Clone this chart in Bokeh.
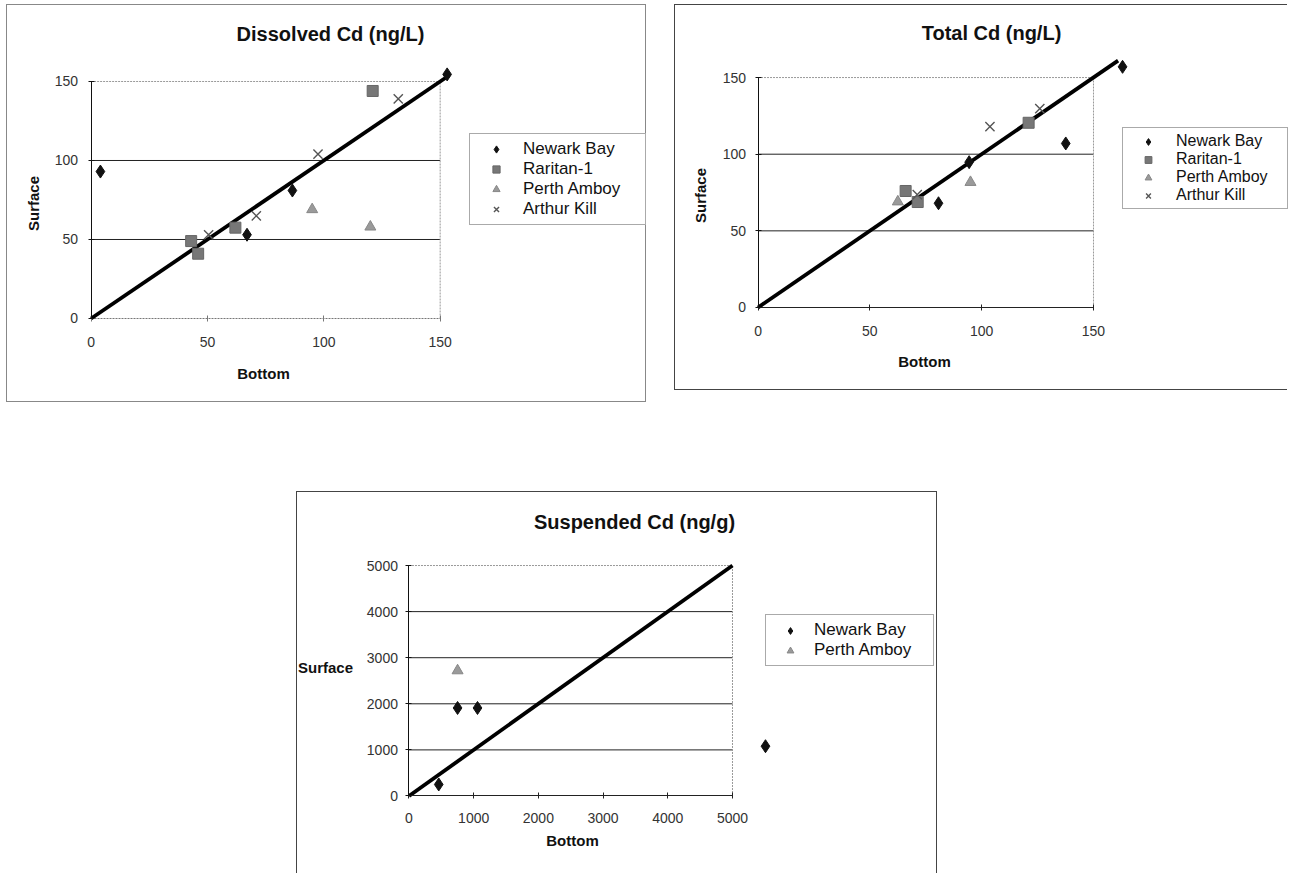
from bokeh.plotting import figure
from bokeh.models import Range1d, FixedTicker, Label, Legend, LegendItem, Spacer
from bokeh.layouts import column, row
from bokeh.embed import file_html
from bokeh.resources import INLINE
from math import pi

# ---------------- data ----------------
# Dissolved Cd (ng/L)
dis_nb_x = [4, 67, 86.5, 153]
dis_nb_y = [93, 53, 81, 154.5]
dis_rar_x = [43, 46, 62, 121]
dis_rar_y = [49, 41, 57.5, 144]
dis_pa_x = [95, 120]
dis_pa_y = [69, 58]
dis_ak_x = [50.5, 71, 97.5, 132]
dis_ak_y = [53, 65, 104, 139]
dis_line = [0, 153]

# Total Cd (ng/L)
tot_nb_x = [80.7, 94.4, 137.6, 163]
tot_nb_y = [68, 94.8, 107, 157]
tot_rar_x = [66, 71.4, 121]
tot_rar_y = [76, 68.8, 120.5]
tot_pa_x = [62.5, 95]
tot_pa_y = [69, 81.7]
tot_ak_x = [71.2, 103.7, 126]
tot_ak_y = [73.6, 118, 129.7]
tot_line = [0, 161]

# Suspended Cd (ng/g)
sus_nb_x = [460, 751, 1059, 5510]
sus_nb_y = [250, 1910, 1910, 1080]
sus_pa_x = [751]
sus_pa_y = [2720]
sus_line = [0, 5000]

ticks_ngl = [0, 50, 100, 150]
ticks_ngg = [0, 1000, 2000, 3000, 4000, 5000]

FONT = "Liberation Sans"

MARKERS = {
    "Newark Bay": dict(marker="diamond", size=13, fill_color="#111111", line_color="#111111"),
    "Raritan-1": dict(marker="square", size=11, fill_color="#777777", line_color="#666666"),
    "Perth Amboy": dict(marker="triangle", size=11, fill_color="#9a9a9a", line_color="#888888"),
    "Arthur Kill": dict(marker="x", size=13, line_color="#555555", line_width=1.4),
}


def make_panel(w, h, xr, yr, ticks, title, t_xy, s_xy, s_rot, b_xy,
               series, line, leg_xy, leg, styles, xaxis_color, xaxis_dash, ylab_sd, xlab_sd):
    p = figure(width=w, height=h, output_backend="svg", toolbar_location=None,
               title=None, x_range=Range1d(*xr), y_range=Range1d(*yr),
               min_border=0, min_border_left=0, min_border_right=0,
               min_border_top=0, min_border_bottom=0)
    p.styles = styles
    p.outline_line_color = None
    p.background_fill_color = "white"
    p.border_fill_color = "white"
    p.xgrid.visible = False
    p.ygrid.visible = False
    tmax = ticks[-1]
    for ax, sd, col, dash in ((p.xaxis[0], xlab_sd, xaxis_color, xaxis_dash),
                              (p.yaxis[0], ylab_sd, "#111111", "solid")):
        ax.fixed_location = 0
        ax.ticker = FixedTicker(ticks=ticks)
        ax.bounds = (0, tmax)
        ax.minor_tick_line_color = None
        ax.major_tick_in = 3
        ax.major_tick_out = 3
        ax.axis_line_color = col
        ax.axis_line_dash = dash
        ax.major_tick_line_color = col
        ax.major_label_text_font = FONT
        ax.major_label_text_font_size = "14px"
        ax.major_label_text_color = "#333333"
        ax.major_label_standoff = sd
    # gridlines inside the plot area
    inner = ticks[1:-1]
    p.segment(x0=[0] * len(inner), x1=[tmax] * len(inner), y0=inner, y1=inner,
              line_color="#222222", line_width=1)
    # plot-area border (top and right)
    p.segment(x0=[0, tmax], x1=[tmax, tmax], y0=[tmax, 0], y1=[tmax, tmax],
              line_color="#999999", line_width=1, line_dash="2 1")
    # 1:1 line
    p.line(line, line, line_color="black", line_width=3.8)

    items = []
    for name, xs, ys in series:
        r = p.scatter(xs, ys, **MARKERS[name])
        items.append(LegendItem(label=name, renderers=[r]))

    legend = Legend(items=items, location=leg_xy, padding=leg["padding"], spacing=0,
                    glyph_width=leg["gw"], glyph_height=leg["lh"], label_height=leg["lh"],
                    label_width=leg["lw"], label_standoff=leg["sd"],
                    label_text_font=FONT, label_text_font_size=leg["fs"],
                    label_text_color="#111111",
                    border_line_color="#555555", border_line_width=1,
                    background_fill_color="white", background_fill_alpha=1.0,
                    margin=0)
    p.add_layout(legend)

    p.add_layout(Label(x=t_xy[0], y=t_xy[1], x_units="screen", y_units="screen", text=title,
                       text_align="center", text_baseline="middle", text_font=FONT,
                       text_font_size="20px", text_font_style="bold", text_color="#111111"))
    p.add_layout(Label(x=s_xy[0], y=s_xy[1], x_units="screen", y_units="screen", text="Surface",
                       angle=s_rot, text_align="center", text_baseline="middle", text_font=FONT,
                       text_font_size="15px", text_font_style="bold", text_color="#111111"))
    p.add_layout(Label(x=b_xy[0], y=b_xy[1], x_units="screen", y_units="screen", text="Bottom",
                       text_align="center", text_baseline="middle", text_font=FONT,
                       text_font_size="15px", text_font_style="bold", text_color="#111111"))
    return p


p1 = make_panel(
    640, 398, (-35.93, 239.1), (-53.8, 198.1), ticks_ngl, "Dissolved Cd (ng/L)",
    (323, 370), (26, 200), pi / 2, (256, 30),
    [("Newark Bay", dis_nb_x, dis_nb_y), ("Raritan-1", dis_rar_x, dis_rar_y),
     ("Perth Amboy", dis_pa_x, dis_pa_y), ("Arthur Kill", dis_ak_x, dis_ak_y)],
    dis_line, (462, 178),
    dict(padding=5, gw=42, lh=18, lw=117, sd=6, fs="17px"),
    {"border": "1px solid #888888"}, "#777777", "2 1", 10, 16)

p2 = make_panel(
    613, 386, (-36.9, 237.2), (-54.8, 197.0), ticks_ngl, "Total Cd (ng/L)",
    (316, 359), (25, 196), pi / 2, (249, 30),
    [("Newark Bay", tot_nb_x, tot_nb_y), ("Raritan-1", tot_rar_x, tot_rar_y),
     ("Perth Amboy", tot_pa_x, tot_pa_y), ("Arthur Kill", tot_ak_x, tot_ak_y)],
    tot_line, (447, 182),
    dict(padding=4, gw=42, lh=17, lw=107, sd=7, fs="16px"),
    {"border-left": "1px solid #444444", "border-top": "1px solid #444444",
     "border-bottom": "1px solid #444444"}, "#222222", "solid", 9, 16)

p3 = make_panel(
    641, 382, (-1723, 8184), (-1703, 6584), ticks_ngg, "Suspended Cd (ng/g)",
    (337, 353), (28, 207), 0, (275, 34),
    [("Newark Bay", sus_nb_x, sus_nb_y), ("Perth Amboy", sus_pa_x, sus_pa_y)],
    sus_line, (468, 208),
    dict(padding=5, gw=38, lh=17, lw=114, sd=5, fs="17px"),
    {"border-left": "1px solid #444444", "border-top": "1px solid #444444",
     "border-right": "1px solid #444444"}, "#222222", "solid", 8, 14)

layout = column(
    Spacer(width=10, height=4),
    row(Spacer(width=6, height=10), p1, Spacer(width=28, height=10), p2),
    Spacer(width=10, height=89),
    row(Spacer(width=296, height=10), p3),
)

open("out.html", "w").write(file_html(layout, INLINE))
